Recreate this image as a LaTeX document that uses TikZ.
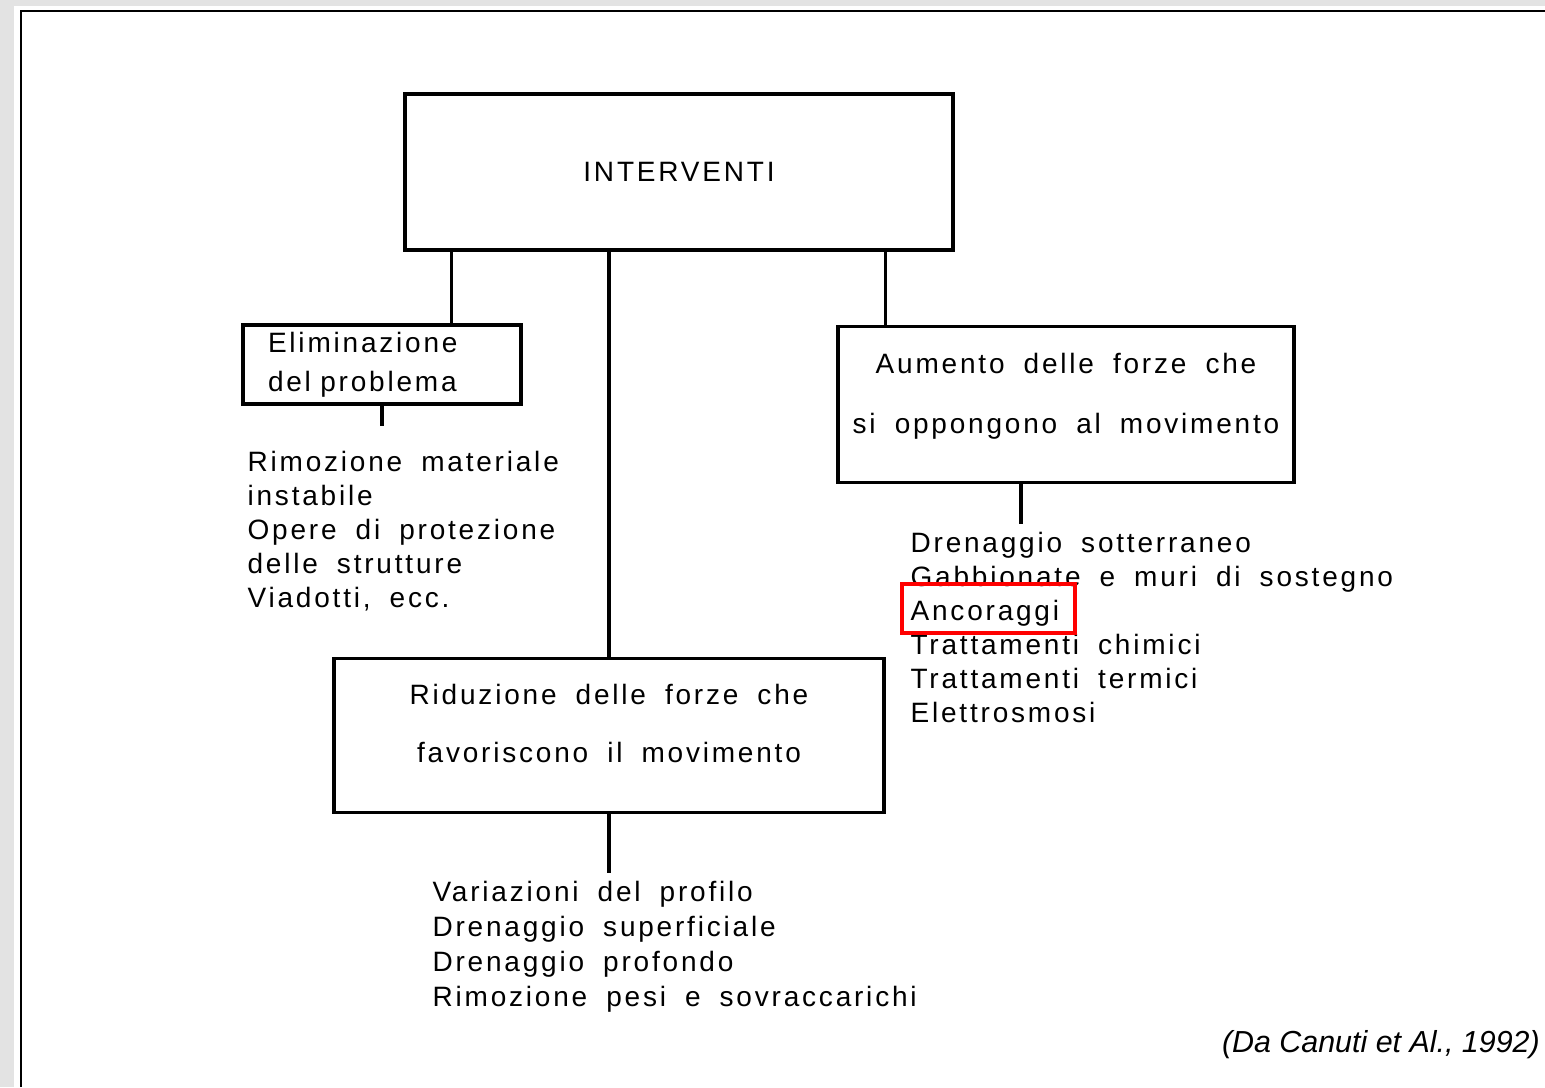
\documentclass[tikz,border=0pt]{standalone}
\usepackage{fontspec}
\setmainfont{Liberation Sans}
\newfontfamily\scanfont[LetterSpace=10,WordSpace=1.8]{Liberation Sans}
\colorlet{stripgray}{gray!22}

\begin{document}
\begin{tikzpicture}[x=0.5pt, y=-0.5pt, line width=1.6pt,
  every node/.style={font=\scanfont\fontsize{14}{17.5}\selectfont},
  box/.style={draw, rectangle, inner sep=0pt},
  list/.style={anchor=north west, align=left, inner sep=0pt}]
  \useasboundingbox (0,0) rectangle (1545,1087);
  \fill[stripgray] (0,0) rectangle (1545,1087);
  \fill[white] (14,6) rectangle (1545,1087);
  \draw[line width=1.3pt] (21,1087) -- (21,11) -- (1545,11);

  \node[box, minimum width=274pt, minimum height=78pt] (interventi) at (679,172) {INTERVENTI};
  \node[box, minimum width=139pt, minimum height=39.5pt, text width=114pt, inner xsep=12.5pt, align=left,
    font=\scanfont\fontsize{14}{19.5}\selectfont] (elimina) at (382,364.5) {Eliminazione\\del\ problema};
  \node[box, minimum width=228pt, minimum height=78pt, align=center, text height=40pt, text depth=11.5pt,
    font=\scanfont\fontsize{14}{30}\selectfont] (aumento) at (1066,404.5) {Aumento delle forze che\\si oppongono al movimento};
  \node[box, minimum width=275pt, minimum height=77pt, align=center, text height=39pt, text depth=12.5pt,
    font=\scanfont\fontsize{14}{29}\selectfont] (riduzione) at (609,735.5) {Riduzione delle forze che\\favoriscono il movimento};

  \node[list, font=\scanfont\fontsize{14}{16.9}\selectfont] (elimlist) at (246,450) {Rimozione materiale\\instabile\\Opere di protezione\\delle strutture\\Viadotti, ecc.};
  \node[list, font=\scanfont\fontsize{14}{17}\selectfont] (aumlist) at (909,531) {Drenaggio sotterraneo\\Gabbionate e muri di sostegno\\Ancoraggi\\Trattamenti chimici\\Trattamenti termici\\Elettrosmosi};
  \node[list] (ridlist) at (431,880) {Variazioni del profilo\\Drenaggio superficiale\\Drenaggio profondo\\Rimozione pesi e sovraccarichi};

  % collegamenti
  \draw ([xshift=24pt]interventi.south west) -- ([xshift=24pt]interventi.south west |- elimina.north);
  \draw (interventi.south -| riduzione.north) -- (riduzione.north);
  \draw ([xshift=-34.5pt]interventi.south east) -- ([xshift=-34.5pt]interventi.south east |- aumento.north);

  \coordinate (elimtip) at ([yshift=-10pt]elimina.south);
  \draw (elimina.south) -- (elimtip);
  \coordinate (aumtip) at ([xshift=-22.5pt, yshift=-20pt]aumento.south);
  \draw ([xshift=-22.5pt]aumento.south) -- (aumtip);
  \coordinate (ridtip) at ([yshift=-29.5pt]riduzione.south);
  \draw (riduzione.south) -- (ridtip);

  \node[draw=red, line width=2pt, minimum width=86.5pt, minimum height=24.5pt, inner sep=0pt] (evidenza) at (988.5,608.5) {};
  \node[anchor=east, font=\itshape\fontsize{15.2}{18}\selectfont] (fonte) at (1548,1045) {(Da Canuti et Al., 1992)};
\end{tikzpicture}
\end{document}
